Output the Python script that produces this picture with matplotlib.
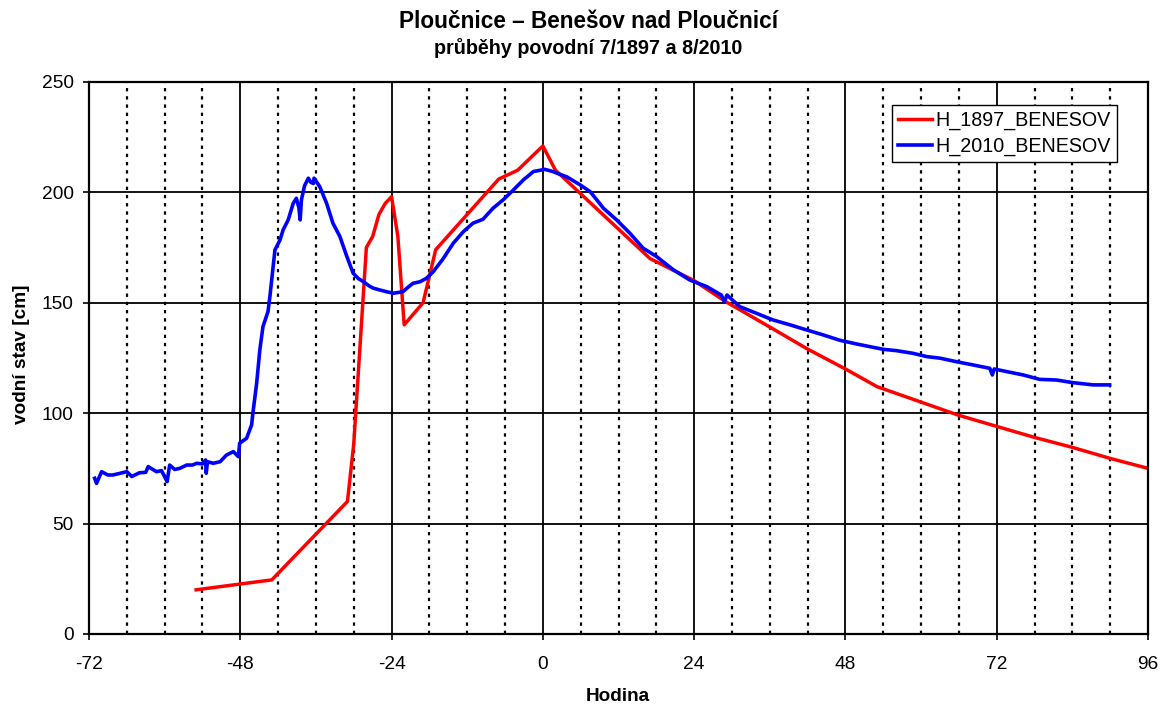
import numpy as np
import matplotlib.pyplot as plt
from matplotlib.ticker import MultipleLocator

plt.rcParams['font.family'] = ['Liberation Sans', 'DejaVu Sans']
plt.rcParams['axes.unicode_minus'] = False

# H_1897_BENESOV (hours, cm)
t1897 = [-55, -43, -31, -30, -28, -27, -26, -25, -24, -23, -22, -19, -17,
         -7, -4, 0, 2, 17, 24, 29, 36, 42, 48, 53, 60, 66, 72, 78, 84, 90, 96]
h1897 = [20, 24.5, 60, 86, 175, 180, 190, 195, 198, 180, 140, 150, 174,
         206, 210, 221, 210, 170, 160, 150.5, 139, 129, 120, 112, 105, 99,
         94, 89, 84.5, 79.5, 75]

# H_2010_BENESOV (hours, cm)
t2010 = [-71.1, -70.8, -70.0, -69.0, -68.2, -67.0, -66.0, -65.2, -64.0, -63.0,
         -62.6, -61.3, -60.5, -59.6, -59.2, -58.4, -57.6, -56.5, -55.6, -54.9,
         -54.0, -53.5, -53.4, -53.2, -52.3, -51.2, -50.2, -49.1, -48.3, -48.1,
         -47.0, -46.2, -46.0, -45.4, -44.9, -44.4, -43.6, -43.3, -42.5, -41.7,
         -41.2, -40.4, -39.6, -39.1, -38.7, -38.5, -38.3, -37.8, -37.2, -36.8,
         -36.4, -36.3, -35.4, -34.3, -33.3, -32.2, -31.1, -30.1, -29.3, -28.5,
         -27.5, -26.9, -25.9, -24.8, -23.7, -22.2, -21.4, -20.6, -19.5, -18.5,
         -17.4, -15.8, -14.2, -12.6, -11.1, -9.5, -7.9, -6.3, -4.7, -3.1,
         -1.5, 0.3, 1.6, 2.2, 3.8, 5.9, 7.5, 9.0, 9.6, 11.7,
         13.8, 15.9, 18.0, 20.7, 23.3, 26.0, 28.3, 28.8, 29.2, 31.25,
         33.9, 36.5, 39.2, 41.8, 44.5, 47.1, 49.8, 51.9, 54.0, 56.1,
         58.7, 60.9, 63.0, 65.6, 68.3, 70.9, 71.3, 71.6, 73.6, 76.2,
         78.8, 81.5, 84.1, 87.3, 89.9]
h2010 = [70.5, 68.2, 73.5, 72.0, 72.0, 72.8, 73.5, 71.3, 73.0, 73.2,
         75.8, 73.5, 74.0, 69.0, 76.5, 74.5, 75.0, 76.5, 76.5, 77.3,
         77.0, 78.8, 72.8, 78.0, 77.3, 78.0, 81.0, 82.6, 80.3, 86.4,
         88.6, 94.7, 100, 113.5, 128.6, 139.2, 146, 152.8, 173.9, 178.4,
         183, 187.5, 195, 197.3, 193, 187.5, 196.6, 203, 206.4, 204.5,
         204, 206.4, 202.6, 195, 186, 180, 171, 163.4, 161, 159.6,
         157.5, 156.6, 155.8, 155, 154.3, 155, 157, 158.8, 159.5, 161,
         164, 170, 177, 182.2, 186, 187.8, 192.8, 196.6, 201, 205.6,
         209.4, 210.4, 209.4, 208.7, 207, 203.4, 200.3, 195, 192.8, 187.5,
         181.5, 174.7, 171, 164.9, 160.3, 157.3, 153.5, 150.5, 153.5, 148.2,
         145.2, 142.2, 140, 137.7, 135.4, 133.0, 131.3, 130.1, 128.9, 128.3,
         127.1, 125.6, 124.9, 123.3, 121.8, 120.3, 117.3, 120, 118.8, 117.3,
         115.3, 115, 113.8, 112.8, 112.8]

fig = plt.figure(figsize=(11.6, 7.06), dpi=100)
ax = fig.add_axes([0.0767, 0.102, 0.913, 0.782])

ax.set_xlim(-72, 96)
ax.set_ylim(0, 250)
ax.xaxis.set_major_locator(MultipleLocator(24))
ax.xaxis.set_minor_locator(MultipleLocator(6))
ax.yaxis.set_major_locator(MultipleLocator(50))

ax.grid(which='major', axis='both', color='black', lw=1.3)
ax.grid(which='minor', axis='x', color='black', lw=1.6, linestyle=(0, (1.5, 2.2)))
ax.set_axisbelow(True)

ax.plot(t1897, h1897, color='#ff0000', lw=2.5, label='H_1897_BENESOV')
ax.plot(t2010, h2010, color='#0000ff', lw=2.6, label='H_2010_BENESOV')

for s in ax.spines.values():
    s.set_linewidth(1.6)
    s.set_color('black')
ax.tick_params(which='major', direction='out', length=4.5, width=1.2,
               labelsize=13.8, colors='black')
ax.tick_params(axis='y', pad=6.5)
ax.tick_params(axis='x', pad=11)
ax.tick_params(which='minor', length=0)

leg = ax.legend(loc='upper right', bbox_to_anchor=(0.9707, 0.958), fontsize=14.2,
                fancybox=False, framealpha=1, edgecolor='black',
                handlelength=1.7, handletextpad=0.2, borderpad=0.3,
                labelspacing=0.35, borderaxespad=0)
leg.get_frame().set_linewidth(1.0)

fig.text(0.507, 0.969, 'Ploučnice – Benešov nad Ploučnicí', ha='center', va='center',
         fontsize=16.3, fontweight='bold')
fig.text(0.507, 0.932, 'průběhy povodní 7/1897 a 8/2010', ha='center', va='center',
         fontsize=14.2, fontweight='bold')
fig.text(0.533, 0.013, 'Hodina', ha='center', va='center', fontsize=13.7, fontweight='bold')
fig.text(0.0185, 0.4986, 'vodní stav [cm]', ha='center', va='center', rotation=90,
         fontsize=13.7, fontweight='bold')

fig.savefig('out.png', dpi=100)
